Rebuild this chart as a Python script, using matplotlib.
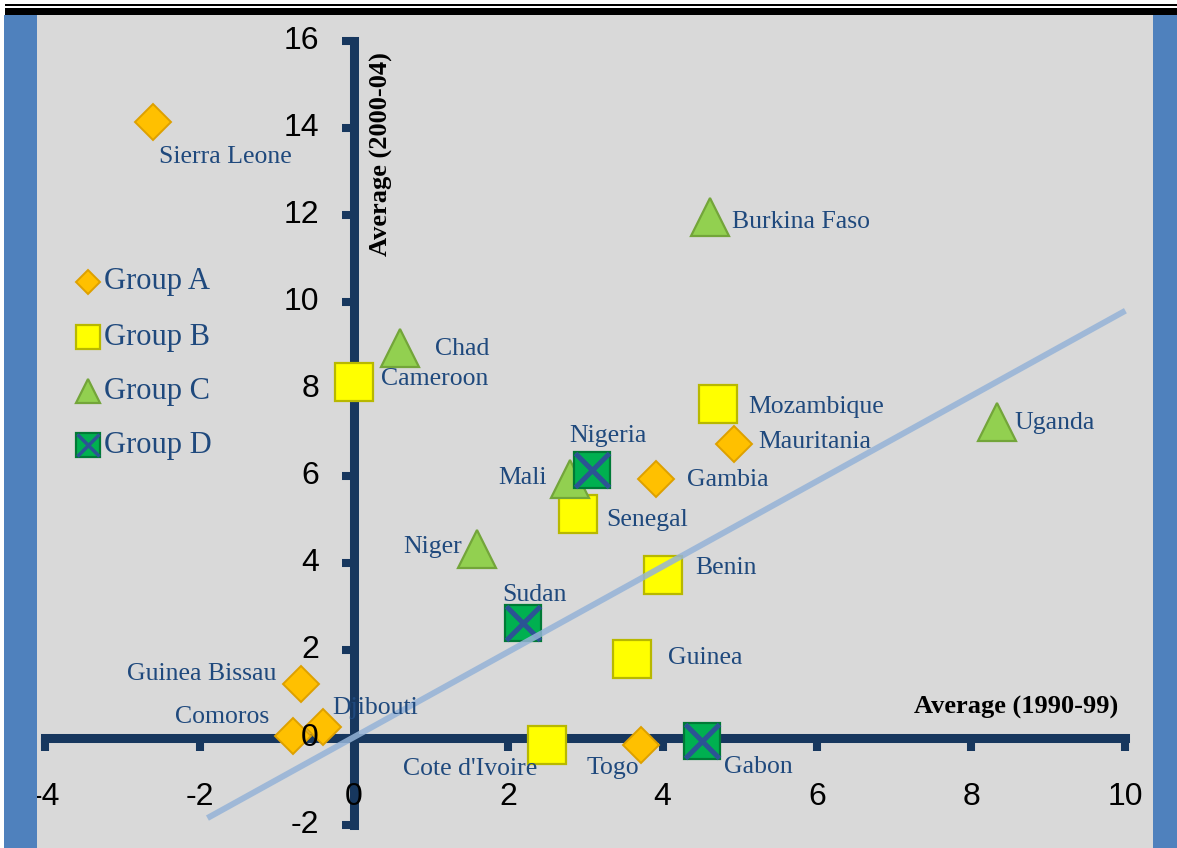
import matplotlib
matplotlib.use("Agg")
import matplotlib.pyplot as plt
from matplotlib.patches import Rectangle

W, H, DPI = 1177, 848, 100

# average growth 1990-99 (x) against 2000-04 (y), by country group
group_a_names = ["Sierra Leone", "Mauritania", "Gambia", "Guinea Bissau", "Djibouti", "Comoros", "Togo"]
group_a_x = [-2.61, 4.93, 3.92, -0.69, -0.40, -0.79, 3.72]
group_a_y = [14.13, 6.74, 5.94, 1.23, 0.24, 0.03, -0.17]

group_b_names = ["Cameroon", "Mozambique", "Senegal", "Benin", "Guinea", "Cote d'Ivoire"]
group_b_x = [0.0, 4.72, 2.90, 4.01, 3.60, 2.50]
group_b_y = [8.16, 7.66, 5.13, 3.72, 1.81, -0.18]

group_c_names = ["Burkina Faso", "Chad", "Uganda", "Mali", "Niger"]
group_c_x = [4.62, 0.60, 8.33, 2.80, 1.60]
group_c_y = [11.95, 8.94, 7.24, 5.94, 4.33]

group_d_names = ["Nigeria", "Sudan", "Gabon"]
group_d_x = [3.09, 2.19, 4.51]
group_d_y = [6.14, 2.63, -0.08]

group_labels = ["Group A", "Group B", "Group C", "Group D"]

line_x = [-1.9, 10.0]
line_y = [-1.85, 9.8]

x_ticks = [-4, -2, 0, 2, 4, 6, 8, 10]
y_ticks = [-2, 0, 2, 4, 6, 8, 10, 12, 14, 16]

# label placement: offset from the marker in pixels (right, down) and alignment
label_pos = {
    "Sierra Leone": (73, 35, "center"),
    "Mauritania": (24, -2, "left"),
    "Gambia": (31, 1, "left"),
    "Guinea Bissau": (-24, -10, "right"),
    "Djibouti": (9, -19, "left"),
    "Comoros": (-24, -19, "right"),
    "Togo": (-2, 23, "right"),
    "Cameroon": (27, -3, "left"),
    "Mozambique": (30, 3, "left"),
    "Senegal": (29, 6, "left"),
    "Benin": (32, -7, "left"),
    "Guinea": (36, -1, "left"),
    "Cote d'Ivoire": (-10, 24, "right"),
    "Burkina Faso": (22, 5, "left"),
    "Chad": (35, 1, "left"),
    "Uganda": (18, 1, "left"),
    "Mali": (-23, -1, "right"),
    "Niger": (-15, -2, "right"),
    "Nigeria": (16, -34, "center"),
    "Sudan": (12, -28, "center"),
    "Gabon": (22, 26, "left"),
}

navy = "#17375E"
text_blue = "#1F497D"
serif = "Liberation Serif"
sans = "Liberation Sans"

styles = {
    "Group A": dict(marker="D", ms=18.8, mfc="#FFC000", mec="#DDA000", mew=1.4),
    "Group B": dict(marker="s", ms=27, mfc="#FFFF00", mec="#B8B800", mew=1.6),
    "Group C": dict(marker="^", ms=27.5, mfc="#92D050", mec="#73A53A", mew=1.6),
    "Group D": dict(marker="s", ms=26, mfc="#00B050", mec="#007A36", mew=1.6),
}
cross = dict(marker="x", ms=25, mec="#2B5494", mew=3.6)

fig = plt.figure(figsize=(W / DPI, H / DPI), dpi=DPI, facecolor="white")
ax = fig.add_axes([0, 0, 1, 1], facecolor="#D9D9D9")

# pixel frame: x = 354 + 77.14 * value, y = 737.5 - 43.55 * value
x0, sx, y0, sy = 354, 77.14, 737.5, 43.55
ax.set_xlim(-x0 / sx, (W - x0) / sx)
ax.set_ylim((y0 - H) / sy, y0 / sy)

for side in ["top", "right"]:
    ax.spines[side].set_visible(False)
ax.spines["left"].set_position(("data", 0))
ax.spines["bottom"].set_position(("data", 0))
ax.spines["left"].set_bounds(-2, 16)
ax.spines["bottom"].set_bounds(-4, 10)
for side in ["left", "bottom"]:
    ax.spines[side].set_linewidth(6.5)
    ax.spines[side].set_color(navy)
    ax.spines[side].set_capstyle("projecting")
ax.set_xticks(x_ticks)
ax.set_yticks(y_ticks)
ax.tick_params(direction="out", length=9, width=5.8, color=navy,
               labelbottom=False, labelleft=False)

groups = [
    ("Group A", group_a_names, group_a_x, group_a_y),
    ("Group B", group_b_names, group_b_x, group_b_y),
    ("Group C", group_c_names, group_c_x, group_c_y),
    ("Group D", group_d_names, group_d_x, group_d_y),
]

for key, names, xs, ys in groups:
    ax.plot(xs, ys, ls="none", zorder=4, **styles[key])
    if key == "Group D":
        ax.plot(xs, ys, ls="none", zorder=4.1, **cross)
    for name, x, y in zip(names, xs, ys):
        dx, dy, ha = label_pos[name]
        ax.annotate(name, (x, y), xytext=(dx * 72 / DPI, -dy * 72 / DPI),
                    textcoords="offset points", ha=ha, va="center",
                    fontsize=18.5, family=serif, color=text_blue, zorder=6)

ax.plot(line_x, line_y, color="#95B3D7", lw=4.3, alpha=0.85,
        solid_capstyle="butt", zorder=5)

# tick labels sit at fixed places, as in the source sheet
for v in x_ticks:
    ax.text(v, (y0 - 797) / sy, f"{v}", ha="center", va="center",
            fontsize=23, family=sans, color="black", zorder=7)
for v in y_ticks:
    ax.text((319 - x0) / sx, v, f"{v}", ha="right", va="center",
            fontsize=23, family=sans, color="black", zorder=7)

ax.text((1016 - x0) / sx, (y0 - 707) / sy, "Average (1990-99)", ha="center", va="center",
        fontsize=19, family=serif, fontweight="bold", color="black", zorder=7)
ax.text((381 - x0) / sx, (y0 - 154) / sy, "Average (2000-04)", ha="center", va="center",
        rotation=90, fontsize=19, family=serif, fontweight="bold", color="black", zorder=7)

# legend drawn by hand on the left side
legend_rows = [282, 337, 391, 445]
legend_ms = {"Group A": 12, "Group B": 17.5, "Group C": 17.5, "Group D": 17}
for key, py in zip(group_labels, legend_rows):
    st = dict(styles[key])
    st["ms"] = legend_ms[key]
    ax.plot([88 / W], [1 - py / H], transform=ax.transAxes, ls="none", zorder=6, **st)
    if key == "Group D":
        cr = dict(cross)
        cr["ms"] = 16
        cr["mew"] = 2.5
        ax.plot([88 / W], [1 - py / H], transform=ax.transAxes, ls="none", zorder=6.1, **cr)
    ax.text(104 / W, 1 - py / H, key, transform=ax.transAxes, ha="left", va="center",
            fontsize=22, family=serif, color=text_blue, zorder=7)

# page frame: white top margin with double rule, blue side bands
def fig_rect(px, py, pw, ph, color):
    fig.add_artist(Rectangle((px / W, 1 - (py + ph) / H), pw / W, ph / H,
                             transform=fig.transFigure, facecolor=color,
                             edgecolor="none", zorder=10))

fig_rect(0, 0, W, 15, "white")
fig_rect(5, 4, W, 2, "black")
fig_rect(5, 8, W, 7, "black")
fig_rect(0, 15, 4, H, "white")
fig_rect(4, 15, 33, H, "#4F81BD")
fig_rect(1153, 15, W - 1153, H, "#4F81BD")

fig.savefig("out.png", dpi=DPI)
